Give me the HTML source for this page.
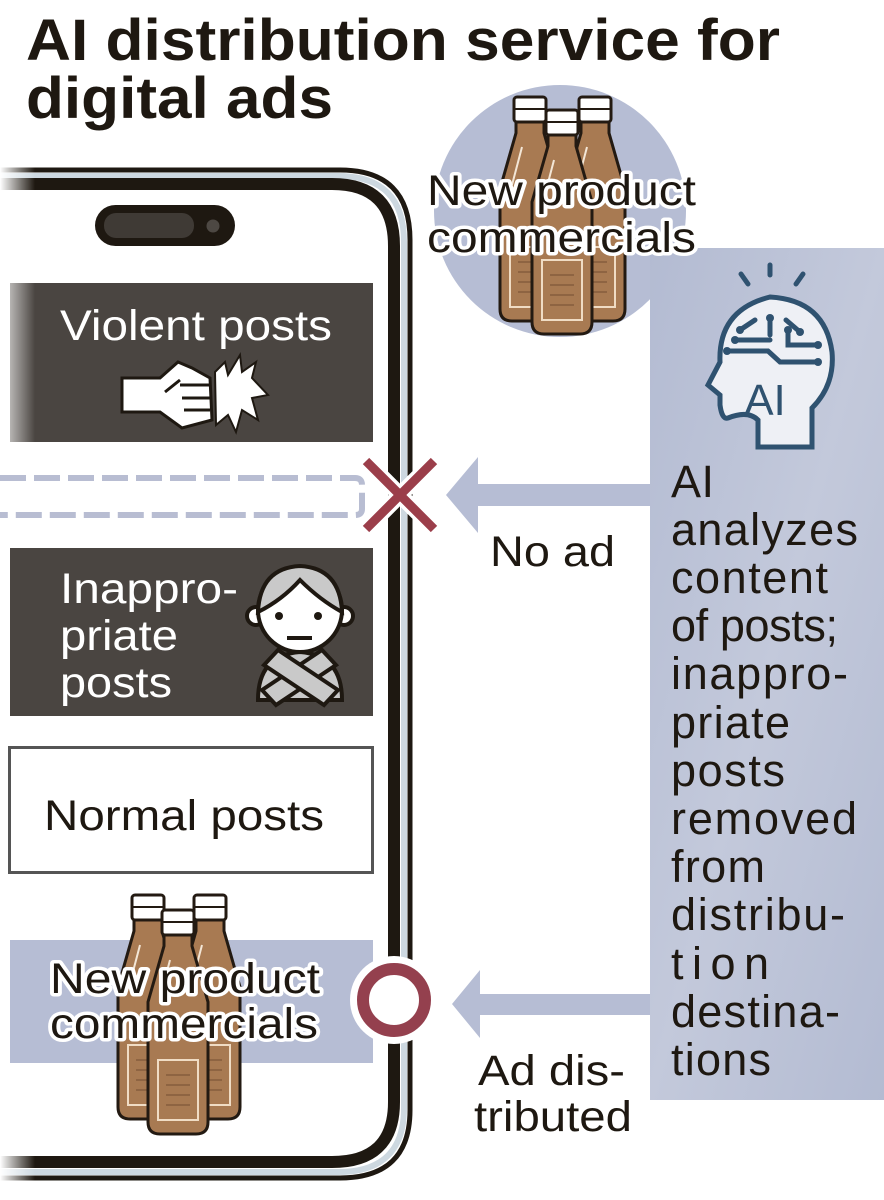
<!DOCTYPE html>
<html><head><meta charset="utf-8"><style>
html,body{margin:0;padding:0;background:#fff}
svg{display:block}
text{font-family:"Liberation Sans",Arial,sans-serif}
</style></head><body>
<svg width="884" height="1200" viewBox="0 0 884 1200" xmlns="http://www.w3.org/2000/svg">
<defs>
<linearGradient id="fadeL" x1="0" x2="1"><stop offset="0" stop-color="#fff" stop-opacity="1"/><stop offset="1" stop-color="#fff" stop-opacity="0"/></linearGradient>
<linearGradient id="panel" x1="0" y1="0" x2="1" y2="1"><stop offset="0" stop-color="#b3bbd2"/><stop offset="0.5" stop-color="#c3c9db"/><stop offset="1" stop-color="#b3bbd2"/></linearGradient>
<g id="bottle">
  <path d="M-14 24 L-14 36 L-30 92 L-30 212 Q-30 224 -18 224 L18 224 Q30 224 30 212 L30 92 L14 36 L14 24 Z" fill="#a87a52" stroke="#231a12" stroke-width="3"/>
  <path d="M-8 50 L-18 88" stroke="#f3e6d6" stroke-width="2"/>
  <rect x="-20" y="150" width="40" height="60" fill="none" stroke="#f0dcc4" stroke-width="2"/>
  <path d="M-12 165h24M-12 175h24M-12 185h24M-12 195h24" stroke="#8e6442" stroke-width="2"/>
  <rect x="-16" y="0" width="32" height="25" rx="3" fill="#fff" stroke="#231a12" stroke-width="3"/>
  <path d="M-16 12h32" stroke="#231a12" stroke-width="2"/>
</g>
</defs>

<text x="26" y="60" font-size="58" font-weight="bold" fill="#1e1811" textLength="754" lengthAdjust="spacingAndGlyphs">AI distribution service for</text>
<text x="26" y="118" font-size="58" font-weight="bold" fill="#1e1811" textLength="307" lengthAdjust="spacingAndGlyphs">digital ads</text>

<circle cx="560" cy="211" r="126" fill="#b6bdd4"/>
<rect x="650" y="248" width="234" height="852" fill="url(#panel)"/>

<path d="M0 170 H340 Q410 170 410 240 V1110 Q410 1178 340 1178 H0" fill="none" stroke="#1e1811" stroke-width="5"/>
<path d="M0 176 H338 Q404 176 404 242 V1108 Q404 1172 338 1172 H0" fill="none" stroke="#cdd8e0" stroke-width="6"/>
<path d="M0 184 H332 Q394 184 394 246 V1102 Q394 1162 332 1162 H0" fill="none" stroke="#1e1811" stroke-width="12"/>
<rect x="0" y="160" width="35" height="30" fill="url(#fadeL)"/>
<rect x="0" y="1150" width="35" height="35" fill="url(#fadeL)"/>

<rect x="95" y="205" width="140" height="41" rx="20.5" fill="#1e1811"/>
<rect x="104" y="213" width="90" height="25" rx="12" fill="#3f3a35"/>
<circle cx="213" cy="226" r="8" fill="#4d4843" stroke="#1e1811" stroke-width="3"/>

<rect x="10" y="283" width="363" height="159" fill="#4a4541"/>
<rect x="10" y="283" width="25" height="159" fill="url(#fadeL)" opacity="0.6"/>
<text x="60" y="340" font-size="43" fill="#fff" textLength="272" lengthAdjust="spacingAndGlyphs">Violent posts</text>
<path d="M122 378 L160 378 L178 362 L192 368 L210 378 L212 420 L182 428 L160 412 L122 412 Z" fill="#fff" stroke="#1e1811" stroke-width="3"/>
<path d="M180 385h30M182 398h30M184 410h26M165 392 L180 380" stroke="#1e1811" stroke-width="3" fill="none"/>
<path d="M215 372 L225 362 L228 375 L240 355 L242 372 L256 362 L252 378 L268 395 L252 398 L258 420 L242 410 L236 432 L228 415 L216 425 Z" fill="#fff" stroke="#1e1811" stroke-width="2"/>

<path d="M0 478 H355 Q362 478 362 485 V509 Q362 515 355 515 H0" fill="none" stroke="#b8bdd2" stroke-width="6" stroke-dasharray="26 8"/>

<rect x="10" y="548" width="363" height="168" fill="#4a4541"/>
<text font-size="43" fill="#fff"><tspan x="60" y="603" textLength="178" lengthAdjust="spacingAndGlyphs">Inappro-</tspan><tspan x="60" y="650" textLength="118" lengthAdjust="spacingAndGlyphs">priate</tspan><tspan x="60" y="697" textLength="112" lengthAdjust="spacingAndGlyphs">posts</tspan></text>
<g stroke="#1e1811" stroke-width="4">
<path d="M258 700 Q258 655 300 652 Q342 655 342 700 Z" fill="#c9c9c9"/>
<circle cx="256" cy="616" r="9" fill="#fff"/><circle cx="344" cy="616" r="9" fill="#fff"/>
<circle cx="300" cy="610" r="42" fill="#fff"/>
<path d="M258 612 Q260 568 300 566 Q340 568 342 612 Q320 600 300 580 Q282 600 258 612 Z" fill="#c9c9c9"/>
<path d="M262 690 L322 650 L336 665 L276 705 Z" fill="#c9c9c9"/>
<path d="M338 690 L278 650 L264 665 L324 705 Z" fill="#c9c9c9"/>
</g>
<circle cx="279" cy="616" r="4" fill="#1e1811"/><circle cx="318" cy="616" r="4" fill="#1e1811"/>
<path d="M287 638h25" stroke="#1e1811" stroke-width="4"/>

<rect x="9.5" y="747.5" width="363" height="125" fill="#fff" stroke="#555" stroke-width="3"/>
<text x="44" y="830" font-size="43" fill="#1e1811" textLength="280" lengthAdjust="spacingAndGlyphs">Normal posts</text>

<rect x="10" y="940" width="363" height="123" fill="#b6bdd4"/>
<use href="#bottle" transform="translate(148 895)"/>
<use href="#bottle" transform="translate(210 895)"/>
<use href="#bottle" transform="translate(178 910)"/>
<text font-size="43" fill="#1e1811" stroke="#fff" stroke-width="7" paint-order="stroke" stroke-linejoin="round"><tspan x="50" y="993" textLength="270" lengthAdjust="spacingAndGlyphs">New product</tspan><tspan x="50" y="1038" textLength="268" lengthAdjust="spacingAndGlyphs">commercials</tspan></text>

<use href="#bottle" transform="translate(530 97)"/>
<use href="#bottle" transform="translate(595 97)"/>
<use href="#bottle" transform="translate(562 110)"/>
<text font-size="43" fill="#1e1811" stroke="#fff" stroke-width="7" paint-order="stroke" stroke-linejoin="round"><tspan x="427" y="205" textLength="269" lengthAdjust="spacingAndGlyphs">New product</tspan><tspan x="427" y="252" textLength="269" lengthAdjust="spacingAndGlyphs">commercials</tspan></text>

<path d="M650 484 H478 V457 L446 495 L478 533 V506 H650 Z" fill="#b6bdd4"/>
<path d="M650 994 H480 V970 L452 1004 L480 1038 V1015 H650 Z" fill="#b6bdd4"/>

<path d="M366 461 L434 529 M434 461 L366 529" stroke="#fff" stroke-width="16"/>
<path d="M366 461 L434 529 M434 461 L366 529" stroke="#9b3e4a" stroke-width="9"/>

<circle cx="394" cy="1000" r="44" fill="#fff"/>
<circle cx="394" cy="1000" r="31" fill="none" stroke="#94404e" stroke-width="12"/>

<text x="490" y="566" font-size="43" fill="#1e1811" textLength="125" lengthAdjust="spacingAndGlyphs">No ad</text>
<text font-size="43" fill="#1e1811"><tspan x="478" y="1085" textLength="147" lengthAdjust="spacingAndGlyphs">Ad dis-</tspan><tspan x="474" y="1131" textLength="158" lengthAdjust="spacingAndGlyphs">tributed</tspan></text>

<g stroke="#2f5270" stroke-width="5" fill="none" stroke-linecap="round">
<path d="M770 265v10M741 274l7 10M803 274l-7 10"/>
<path d="M758 447 V420 Q748 410 728 418 Q722 420 720 405 V395 L708 385 L720 362 Q718 310 770 297 Q825 300 832 352 Q835 385 812 408 V447 Z" fill="#eef0f5"/>
<path d="M740 330 L755 320 M770 318 V335 M786 320 L800 332 M735 340 H770 M788 330 V345 H818 M727 351 H768 L780 362 H818"/>
</g>
<g fill="#2f5270"><circle cx="740" cy="330" r="4"/><circle cx="770" cy="318" r="4"/><circle cx="735" cy="340" r="4"/><circle cx="727" cy="351" r="4"/><circle cx="818" cy="345" r="4"/><circle cx="818" cy="362" r="4"/><circle cx="800" cy="332" r="4"/><circle cx="788" cy="330" r="4"/></g>
<text x="765" y="415" font-size="44" fill="#2f5270" text-anchor="middle">AI</text>

<text font-size="45" fill="#1e1811" lengthAdjust="spacingAndGlyphs">
<tspan x="671" y="497" textLength="43">AI</tspan>
<tspan x="671" y="545" textLength="187">analyzes</tspan>
<tspan x="671" y="593" textLength="157">content</tspan>
<tspan x="671" y="641" textLength="167">of posts;</tspan>
<tspan x="671" y="689" textLength="177">inappro-</tspan>
<tspan x="671" y="738" textLength="119">priate</tspan>
<tspan x="671" y="786" textLength="114">posts</tspan>
<tspan x="671" y="834" textLength="186">removed</tspan>
<tspan x="671" y="882" textLength="94">from</tspan>
<tspan x="671" y="930" textLength="174">distribu-</tspan>
<tspan x="671" y="979" textLength="98">tion</tspan>
<tspan x="671" y="1027" textLength="169">destina-</tspan>
<tspan x="671" y="1075" textLength="100">tions</tspan>
</text>
</svg>
</body></html>
